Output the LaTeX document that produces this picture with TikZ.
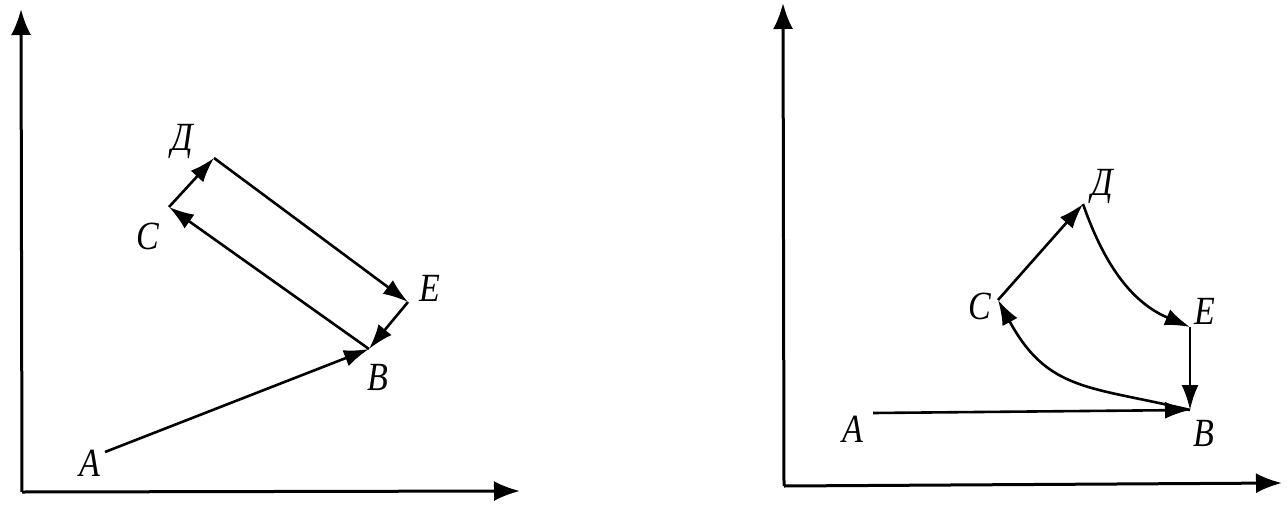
\documentclass[tikz,border=0pt]{standalone}
\usepackage{fontspec}
\setmainfont{Liberation Serif}
\usetikzlibrary{arrows.meta}
\tikzset{
  axis/.style={line width=3pt,-{Latex[length=26pt,width=20pt]}},
  vec/.style={line width=2.6pt,-{Latex[length=25pt,width=17pt]}},
  lbl/.style={font=\fontsize{40}{40}\selectfont\itshape,inner sep=0pt,xscale=0.85}
}
\begin{document}
\begin{tikzpicture}[x=1pt,y=-1pt]
\useasboundingbox (0,0) rectangle (1287,511);
% ---------- left diagram ----------
\coordinate (O1) at (22,492);
\coordinate (Y1) at (21,9);
\coordinate (X1) at (520,491);
\draw[axis] (O1) -- (Y1);
\draw[axis] (O1) -- (X1);
\coordinate (A1) at (105,452);
\coordinate (B1) at (369,349);
\coordinate (E1) at (408,302);
\coordinate (D1) at (214,158);
\coordinate (C1) at (169,207);
\draw[vec] (A1) -- (B1);
\draw[vec] (C1) -- (D1);
\draw[vec] (D1) -- (E1);
\draw[vec] (E1) -- (B1);
\draw[vec] (B1) -- (C1);
\node[lbl] (lA1) at (90,463) {А};
\node[lbl] (lB1) at (378,377) {В};
\node[lbl] (lC1) at (148,236) {С};
\node[lbl] (lD1) at (182,141) {Д};
\node[lbl] (lE1) at (430,288) {Е};
% ---------- right diagram ----------
\coordinate (O2) at (784,486);
\coordinate (Y2) at (783,3);
\coordinate (X2) at (1282,483);
\draw[axis] (O2) -- (Y2);
\draw[axis] (O2) -- (X2);
\coordinate (A2) at (873,413);
\coordinate (B2) at (1190,410);
\coordinate (E2) at (1190,327);
\coordinate (D2) at (1083,204);
\coordinate (C2) at (998,300);
\draw[vec] (A2) -- (B2);
\draw[vec] (C2) -- (D2);
\draw[vec] (D2) .. controls (1106,270) and (1135,304) .. (E2);
\draw[vec] (E2) -- (B2);
\draw[vec] (B2) .. controls (1090,386) and (1048,392) .. (C2);
\node[lbl] (lA2) at (853,429) {А};
\node[lbl] (lB2) at (1204,433) {В};
\node[lbl] (lC2) at (980,306) {С};
\node[lbl] (lD2) at (1102,186) {Д};
\node[lbl] (lE2) at (1205,311) {Е};
\end{tikzpicture}
\end{document}
